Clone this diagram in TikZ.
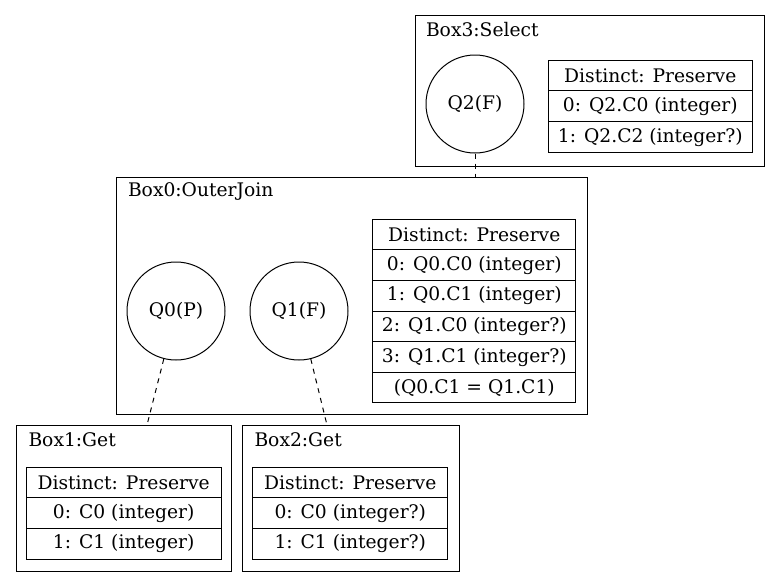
\documentclass[tikz,border=0pt]{standalone}
\usepackage{fontspec}
\setmainfont{DejaVu Serif}
\usepackage{tikz}

\begin{document}
\begin{tikzpicture}[x=1pt, y=-1pt, line width=1pt,
        every node/.style={font=\fontsize{18.7}{22}\selectfont},
        cluster/.style={draw, rectangle, inner sep=0},
        title/.style={anchor=west, inner sep=0},
        quant/.style={draw, circle, minimum size=98pt, inner sep=0},
        row/.style={draw, rectangle, inner sep=0, minimum height=30.6pt},
        link/.style={dash pattern=on 5pt off 5pt}]
        \useasboundingbox[fill=white] (0,0) rectangle (780,587);
        % boxes
        \node[cluster, minimum width=349pt, minimum height=151pt] (box3) at (589.5,90.5) {};
        \node[title] at (425.5,30) {Box3:Select};
        \node[cluster, minimum width=471pt, minimum height=237pt] (box0) at (351.5,295.5) {};
        \node[title] at (127.5,192) {Box0:OuterJoin};
        \node[cluster, minimum width=215.5pt, minimum height=146pt] (box1) at (123.75,498) {};
        \node[title] at (28,440) {Box1:Get};
        \node[cluster, minimum width=216.5pt, minimum height=146pt] (box2) at (350.75,498) {};
        \node[title] at (254,440) {Box2:Get};
        % quantifiers
        \node[quant] (q2) at (475,104) {Q2(F)};
        \node[quant] (q0) at (176,311) {Q0(P)};
        \node[quant] (q1) at (299,311) {Q1(F)};
        % Box3 columns
        \node[row, minimum width=204pt] (s0) at (650.3,75.3) {Distinct: Preserve};
        \node[row, minimum width=204pt] (s1) at (650.3,106.2) {0: Q2.C0 (integer)};
        \node[row, minimum width=204pt] (s2) at (650.3,137.2) {1: Q2.C2 (integer?)};
        % Box0 columns
        \node[row, minimum width=203.3pt] (j0) at (474.3,234.6) {Distinct: Preserve};
        \node[row, minimum width=203.3pt] (j1) at (474.3,265.2) {0: Q0.C0 (integer)};
        \node[row, minimum width=203.3pt] (j2) at (474.3,295.8) {1: Q0.C1 (integer)};
        \node[row, minimum width=203.3pt] (j3) at (474.3,326.4) {2: Q1.C0 (integer?)};
        \node[row, minimum width=203.3pt] (j4) at (474.3,357.0) {3: Q1.C1 (integer?)};
        \node[row, minimum width=203.3pt] (j5) at (474.3,387.6) {(Q0.C1 = Q1.C1)};
        % Box1 columns
        \node[row, minimum width=195.3pt] (g0) at (123.7,482.5) {Distinct: Preserve};
        \node[row, minimum width=195.3pt] (g1) at (123.7,513.1) {0: C0 (integer)};
        \node[row, minimum width=195.3pt] (g2) at (123.7,543.7) {1: C1 (integer)};
        % Box2 columns
        \node[row, minimum width=194.7pt] (h0) at (350.3,482.5) {Distinct: Preserve};
        \node[row, minimum width=194.7pt] (h1) at (350.3,513.1) {0: C0 (integer?)};
        \node[row, minimum width=194.7pt] (h2) at (350.3,543.7) {1: C1 (integer?)};
        % edges
        \coordinate (in0) at (475,177);
        \coordinate (in1) at (147,425);
        \coordinate (in2) at (327,425);
        \draw[link] (q2) -- (in0);
        \draw[link] (q0) -- (in1);
        \draw[link] (q1) -- (in2);
    \end{tikzpicture}
\end{document}
